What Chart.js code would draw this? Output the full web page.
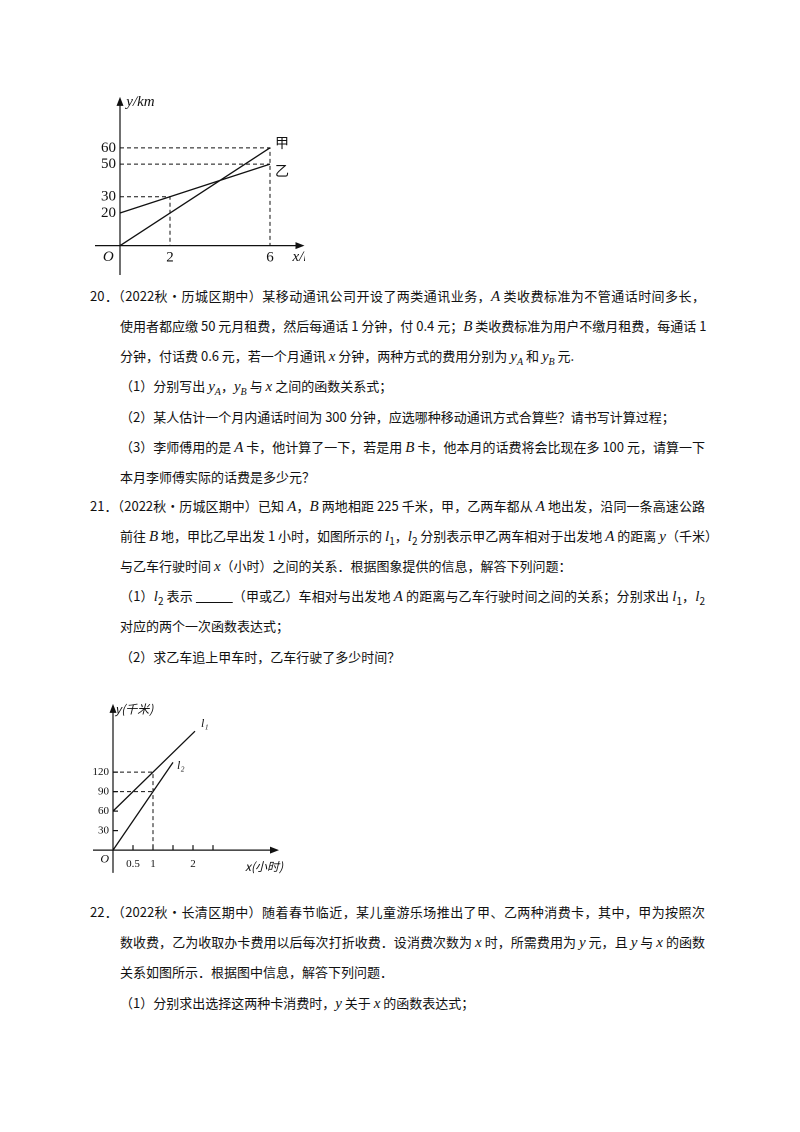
<!DOCTYPE html>
<html><head><meta charset="utf-8">
<script src="https://cdn.jsdelivr.net/npm/chart.js@4"></script>
<style>
body{margin:0;width:800px;height:1132px;background:#fff;position:relative;font-family:"Noto Sans CJK SC","DejaVu Serif",serif;color:#111}
.t{position:absolute;font-size:13px;line-height:20px;white-space:nowrap}
.j{text-align:justify;text-align-last:justify;white-space:nowrap}
i{font-family:"Liberation Serif",serif;font-size:15px}
sub{font-size:10px;line-height:0}
canvas{position:absolute}
</style></head><body>
<canvas id="c1" style="left:95px;top:95px"></canvas>
<canvas id="c2" style="left:90px;top:700px"></canvas>

<div class="t j" style="left:90px;top:286px;width:615px">20．（2022秋•历城区期中）某移动通讯公司开设了两类通讯业务，<i>A</i> 类收费标准为不管通话时间多长，</div>
<div class="t j" style="left:120px;top:316px;width:585px">使用者都应缴 50 元月租费，然后每通话 1 分钟，付 0.4 元；<i>B</i> 类收费标准为用户不缴月租费，每通话 1</div>
<div class="t" style="left:120px;top:346px">分钟，付话费 0.6 元，若一个月通讯 <i>x</i> 分钟，两种方式的费用分别为 <i>y<sub>A</sub></i> 和 <i>y<sub>B</sub></i> 元.</div>
<div class="t" style="left:120px;top:376px">（1）分别写出 <i>y<sub>A</sub></i>，<i>y<sub>B</sub></i> 与 <i>x</i> 之间的函数关系式；</div>
<div class="t" style="left:120px;top:407px">（2）某人估计一个月内通话时间为 300 分钟，应选哪种移动通讯方式合算些？请书写计算过程；</div>
<div class="t j" style="left:120px;top:437px;width:585px">（3）李师傅用的是 <i>A</i> 卡，他计算了一下，若是用 <i>B</i> 卡，他本月的话费将会比现在多 100 元，请算一下</div>
<div class="t" style="left:120px;top:467px">本月李师傅实际的话费是多少元？</div>
<div class="t j" style="left:90px;top:496px;width:615px">21．（2022秋•历城区期中）已知 <i>A</i>，<i>B</i> 两地相距 225 千米，甲，乙两车都从 <i>A</i> 地出发，沿同一条高速公路</div>
<div class="t j" style="left:120px;top:526px;width:585px">前往 <i>B</i> 地，甲比乙早出发 1 小时，如图所示的 <i>l</i><sub>1</sub>，<i>l</i><sub>2</sub> 分别表示甲乙两车相对于出发地 <i>A</i> 的距离 <i>y</i>（千米）</div>
<div class="t" style="left:120px;top:556px">与乙车行驶时间 <i>x</i>（小时）之间的关系．根据图象提供的信息，解答下列问题：</div>
<div class="t j" style="left:120px;top:586px;width:585px">（1）<i>l</i><sub>2</sub> 表示 <u>&nbsp;&nbsp;&nbsp;&nbsp;&nbsp;&nbsp;&nbsp;&nbsp;&nbsp;&nbsp;&nbsp;&nbsp;</u>（甲或乙）车相对与出发地 <i>A</i> 的距离与乙车行驶时间之间的关系；分别求出 <i>l</i><sub>1</sub>，<i>l</i><sub>2</sub></div>
<div class="t" style="left:120px;top:616px">对应的两个一次函数表达式；</div>
<div class="t" style="left:120px;top:647px">（2）求乙车追上甲车时，乙车行驶了多少时间？</div>
<div class="t j" style="left:90px;top:902px;width:615px">22．（2022秋•长清区期中）随着春节临近，某儿童游乐场推出了甲、乙两种消费卡，其中，甲为按照次</div>
<div class="t j" style="left:120px;top:932px;width:585px">数收费，乙为收取办卡费用以后每次打折收费．设消费次数为 <i>x</i> 时，所需费用为 <i>y</i> 元，且 <i>y</i> 与 <i>x</i> 的函数</div>
<div class="t" style="left:120px;top:962px">关系如图所示．根据图中信息，解答下列问题．</div>
<div class="t" style="left:120px;top:993px">（1）分别求出选择这两种卡消费时，<i>y</i> 关于 <i>x</i> 的函数表达式；</div>

<script>
// chart 1 data
const jiaPts = [{x:0,y:0},{x:6,y:60}];
const yiPts = [{x:0,y:20},{x:6,y:50}];
const dash1 = [[{x:0,y:60},{x:6,y:60},{x:6,y:0}],[{x:0,y:50},{x:6,y:50}],[{x:0,y:30},{x:2,y:30},{x:2,y:0}]];
const yTicks1 = [20,30,50,60];
const xTicks1 = [2,6];
// chart 2 data
const l1Pts = [{x:0,y:60},{x:2.05,y:183}];
const l2Pts = [{x:0,y:0},{x:1.5,y:135}];
const dash2 = [[{x:0,y:120},{x:1,y:120},{x:1,y:0}],[{x:0,y:90},{x:1,y:90}]];
const yTicks2 = [30,60,90,120];
const xTicks2 = [0.5,1,2];
const xMarks2 = [0.5,1,1.5,2,2.5];

function axesPlugin(o){
  return {id:'ax', afterDatasetsDraw(ch){
    const c=ch.ctx, X=ch.scales.x, Y=ch.scales.y;
    const px=v=>X.getPixelForValue(v), py=v=>Y.getPixelForValue(v);
    c.save(); c.strokeStyle='#111'; c.fillStyle='#111'; c.lineWidth=1.2; c.setLineDash([]);
    c.beginPath(); c.moveTo(px(o.x0),py(0)); c.lineTo(px(o.x1),py(0));
    c.moveTo(px(0),py(o.y0)); c.lineTo(px(0),py(o.y1)); c.stroke();
    c.beginPath(); c.moveTo(px(o.x1)+2,py(0)); c.lineTo(px(o.x1)-7,py(0)-3.5); c.lineTo(px(o.x1)-7,py(0)+3.5); c.fill();
    c.beginPath(); c.moveTo(px(0),py(o.y1)-2); c.lineTo(px(0)-3.5,py(o.y1)+7); c.lineTo(px(0)+3.5,py(o.y1)+7); c.fill();
    c.font=o.font; c.textBaseline='middle';
    c.textAlign='right'; o.yt.forEach(v=>c.fillText(v,px(0)-4,py(v)));
    c.textAlign='center'; o.xt.forEach(v=>c.fillText(v,px(v),py(0)+o.xoff));
    (o.marks||[]).forEach(v=>{c.beginPath();c.moveTo(px(v),py(0));c.lineTo(px(v),py(0)-5);c.stroke();});
    (o.ymarks||[]).forEach(v=>{c.beginPath();c.moveTo(px(0),py(v));c.lineTo(px(0)+5,py(v));c.stroke();});
    o.labels.forEach(l=>{c.font=l.f||o.font;c.textAlign=l.a||'left';c.fillText(l.t,px(l.x),py(l.y));});
    c.restore();
  }};
}
function ds(d,dash){return {data:d,showLine:true,pointRadius:0,borderColor:'#111',borderWidth:dash?1:1.3,borderDash:dash?[4,3]:[],tension:0};}
function opts(xr,yr){return {responsive:false,animation:false,devicePixelRatio:2,layout:{padding:0},plugins:{legend:{display:false},tooltip:{enabled:false}},
  scales:{x:{type:'linear',display:false,min:xr[0],max:xr[1]},y:{type:'linear',display:false,min:yr[0],max:yr[1]}}};}
function mk(id,w,h){const el=document.getElementById(id);el.width=w;el.height=h;return el;}

new Chart(mk('c1',210,180),{type:'scatter',
  data:{datasets:[ds(jiaPts),ds(yiPts),...dash1.map(d=>ds(d,true))]},
  options:opts([-1,7.4],[-18,92.4]),
  plugins:[axesPlugin({x0:-1,x1:7.3,y0:-18,y1:90,yt:yTicks1,xt:xTicks1,xoff:12,font:'15px "Liberation Serif"',
    labels:[{t:'y/km',x:0.25,y:88,f:'italic 15px "Liberation Serif"'},{t:'O',x:-0.25,y:-7,a:'right',f:'italic 15px "Liberation Serif"'},
      {t:'x/h',x:6.9,y:-7,f:'italic 15px "Liberation Serif"'},{t:'甲',x:6.2,y:63,f:'14px "Noto Sans CJK SC"'},{t:'乙',x:6.2,y:46,f:'14px "Noto Sans CJK SC"'}]})]
});
new Chart(mk('c2',200,180),{type:'scatter',
  data:{datasets:[ds(l1Pts),ds(l2Pts),...dash2.map(d=>ds(d,true))]},
  options:opts([-0.575,4.425],[-46,231]),
  plugins:[axesPlugin({x0:-0.5,x1:4.1,y0:-35,y1:222,yt:yTicks2,xt:xTicks2,marks:xMarks2,ymarks:yTicks2,xoff:14,font:'11px "Liberation Serif"',
    labels:[{t:'y(千米)',x:0.05,y:217,f:'italic 12px "Noto Sans CJK SC"'},{t:'O',x:-0.1,y:-14,a:'right',f:'italic 12px "Liberation Serif"'},
      {t:'x(小时)',x:3.3,y:-25,f:'italic 12px "Noto Sans CJK SC"'},{t:'l₁',x:2.2,y:194,f:'italic 12px "Liberation Serif"'},{t:'l₂',x:1.6,y:130,f:'italic 12px "Liberation Serif"'}]})]
});
</script>
</body></html>
